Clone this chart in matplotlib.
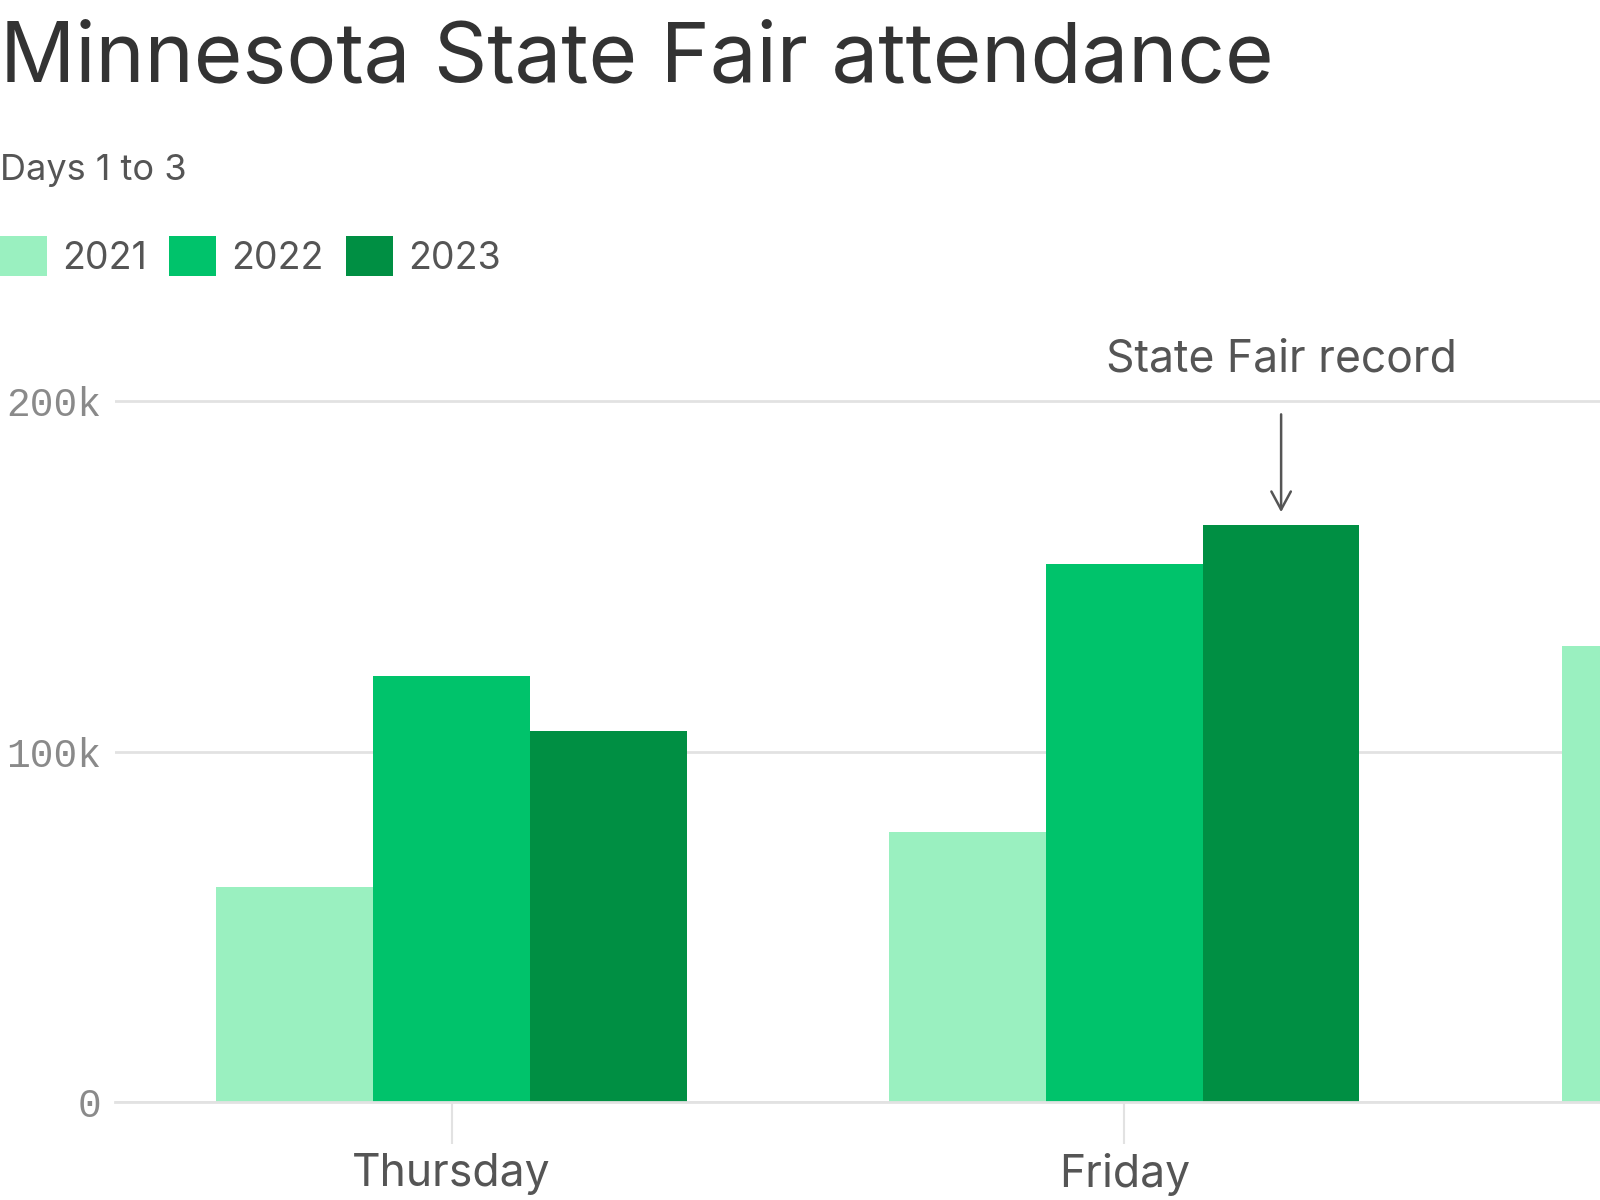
import numpy as np
import matplotlib
matplotlib.use("Agg")
import matplotlib.pyplot as plt
from matplotlib.patches import Patch

# values (Saturday 2022/2023 lie outside the visible area)
days = ["Thursday", "Friday", "Saturday"]
years = ["2021", "2022", "2023"]
att_2021 = [61500, 77000, 130000]
att_2022 = [121500, 153500, np.nan]
att_2023 = [106000, 164500, np.nan]
colors = ["#9af0c0", "#00c36b", "#008f43"]

TEXT = "#555555"
GRID = "#e2e2e2"

plt.rcParams["font.family"] = ["Inter", "DejaVu Sans"]

fig = plt.figure(figsize=(16, 12), dpi=100)
# axes runs off the right edge of the figure, as in the reference
ax = fig.add_axes([0.072, 0.0816, 0.928, 0.6134])

x = np.arange(len(days))
w = 0.233
for i, (vals, col) in enumerate(zip([att_2021, att_2022, att_2023], colors)):
    ax.bar(x + (i - 1) * w, vals, width=w, color=col, zorder=3)

ax.set_yticks([0, 100000, 200000])
ax.set_yticklabels(["0", "100k", "200k"], family=["Liberation Mono", "DejaVu Sans Mono"],
                   fontsize=28.5, color="#8a8a8a")
ax.tick_params(axis="y", length=0, pad=10)
ax.set_xticks(x)
ax.set_xticklabels(days, fontsize=32, color=TEXT)
ax.tick_params(axis="x", length=30, width=1.5, color=GRID, pad=7)
ax.set_xlim(-0.5, 1.707)
ax.set_ylim(0, 210000)
ax.grid(axis="y", color=GRID, linewidth=2, zorder=0)
for s in ["top", "right", "left"]:
    ax.spines[s].set_visible(False)
ax.spines["bottom"].set_color(GRID)
ax.spines["bottom"].set_linewidth(2)
ax.spines["bottom"].set_zorder(4)

# record annotation over Friday 2023
rec_x = 1 + w
ax.annotate("", xy=(rec_x, att_2023[1] + 3000), xytext=(rec_x, 197000),
            arrowprops=dict(arrowstyle="->,head_length=1.3,head_width=0.7", color=TEXT, lw=1.8))
ax.text(rec_x, 206000, "State Fair record", ha="center", va="bottom", fontsize=32, color=TEXT)

fig.text(0.0, 0.932, "Minnesota State Fair attendance", fontsize=60, color="#333333", va="baseline")
fig.text(0.0, 0.85, "Days 1 to 3", fontsize=26, color=TEXT, va="baseline")

handles = [Patch(facecolor=c) for c in colors]
fig.legend(handles, years, loc="upper left", bbox_to_anchor=(0.0, 0.803), ncol=3, frameon=False,
           fontsize=27, handlelength=1.25, handleheight=1.25, handletextpad=0.4, columnspacing=0.6,
           labelcolor=TEXT, borderpad=0, borderaxespad=0)

fig.savefig("out.png", dpi=100)
